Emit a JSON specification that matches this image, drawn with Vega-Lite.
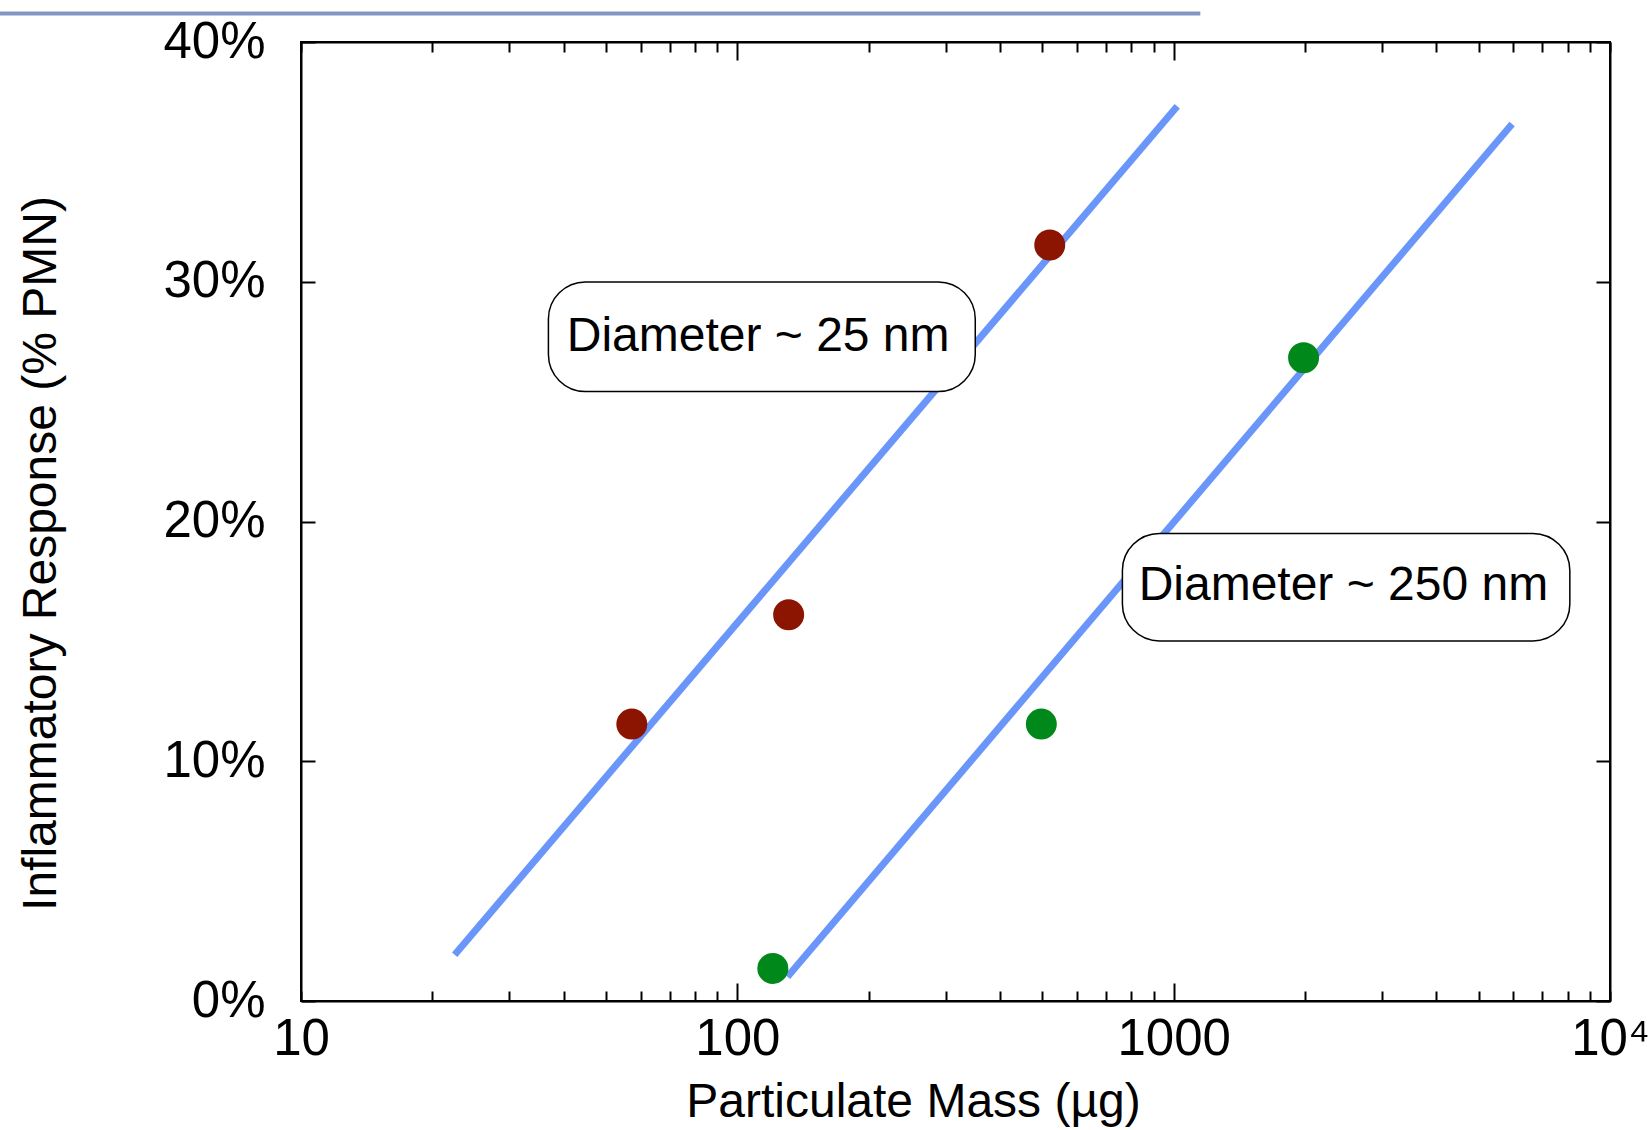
{
  "$schema": "https://vega.github.io/schema/vega-lite/v6.json",
  "width": 1309,
  "height": 959,
  "autosize": {"type": "none"},
  "padding": {"left": 301, "top": 42, "right": 41, "bottom": 129},
  "background": "white",
  "config": {
    "view": {"stroke": "black", "strokeWidth": 2},
    "font": "Liberation Sans",
    "axis": {"grid": false, "domainColor": "black", "domainWidth": 2, "tickColor": "black", "tickWidth": 2, "labelFont": "Liberation Sans", "titleFont": "Liberation Sans", "labelColor": "black", "titleColor": "black", "titleFontWeight": "normal", "labelFontSize": 51, "titleFontSize": 48}
  },
  "datasets": {
    "lines": [
      {"series": "25 nm", "mass": 22.5, "pmn": 1.93},
      {"series": "25 nm", "mass": 1019, "pmn": 37.32},
      {"series": "250 nm", "mass": 130.3, "pmn": 1.01},
      {"series": "250 nm", "mass": 5966, "pmn": 36.58}
    ],
    "points": [
      {"series": "25 nm", "mass": 57.3, "pmn": 11.55},
      {"series": "25 nm", "mass": 131.1, "pmn": 16.11},
      {"series": "25 nm", "mass": 520, "pmn": 31.53},
      {"series": "250 nm", "mass": 120.6, "pmn": 1.36},
      {"series": "250 nm", "mass": 497.4, "pmn": 11.55},
      {"series": "250 nm", "mass": 1985, "pmn": 26.83}
    ],
    "boxes": [
      {"label": "Diameter ~ 25 nm", "x1": 36.9, "x2": 351, "y1": 25.42, "y2": 29.99, "tx": 111.6, "ty": 27.7},
      {"label": "Diameter ~ 250 nm", "x1": 763, "x2": 8090, "y1": 15.02, "y2": 19.5, "tx": 2449, "ty": 17.3}
    ],
    "deco": [{"x1": 2.04, "x2": 1151, "y": 41.19}]
  },
  "layer": [
    {
      "data": {"name": "deco"},
      "mark": {"type": "rule", "color": "#8497c4", "strokeWidth": 4},
      "encoding": {
        "x": {"field": "x1", "type": "quantitative", "scale": {"type": "log", "domain": [10, 10000], "nice": false}, "axis": null},
        "x2": {"field": "x2"},
        "y": {"field": "y", "type": "quantitative", "scale": {"domain": [0, 40], "nice": false}, "axis": null}
      }
    },
    {
      "data": {"name": "lines"},
      "mark": {"type": "line", "color": "#6a96fa", "strokeWidth": 7},
      "encoding": {
        "x": {
          "field": "mass", "type": "quantitative",
          "scale": {"type": "log", "domain": [10, 10000], "nice": false},
          "axis": {
            "orient": "bottom",
            "title": "Particulate Mass (µg)",
            "values": [10, 20, 30, 40, 50, 60, 70, 80, 90, 100, 200, 300, 400, 500, 600, 700, 800, 900, 1000, 2000, 3000, 4000, 5000, 6000, 7000, 8000, 9000, 10000],
            "labelExpr": "datum.value == 10 ? '10' : datum.value == 100 ? '100' : datum.value == 1000 ? '1000' : datum.value == 10000 ? '10⁴' : ''",
            "labelOverlap": false,
            "labelFlush": false,
            "tickSize": -18,
            "tickDash": {"condition": {"test": "datum.value == 100 || datum.value == 1000", "value": [100, 1]}, "value": [10, 40]},
            "labelPadding": 31,
            "titlePadding": 14,
            "titleX": 612,
            "titleAlign": "center",
            "titleAnchor": "start"
          }
        },
        "y": {
          "field": "pmn", "type": "quantitative",
          "scale": {"domain": [0, 40], "nice": false},
          "axis": {
            "orient": "left",
            "title": "Inflammatory Response (% PMN)",
            "values": [0, 10, 20, 30, 40],
            "labelExpr": "datum.value + '%'",
            "tickSize": -14,
            "labelPadding": 50,
            "titlePadding": 97,
            "titleY": 511,
            "titleAlign": "center",
            "titleAnchor": "start"
          }
        },
        "detail": {"field": "series"}
      }
    },
    {
      "data": {"name": "points"},
      "mark": {"type": "circle", "opacity": 1, "size": 960},
      "encoding": {
        "x": {
          "field": "mass", "type": "quantitative",
          "scale": {"type": "log", "domain": [10, 10000], "nice": false},
          "axis": {
            "orient": "top",
            "title": null,
            "values": [10, 20, 30, 40, 50, 60, 70, 80, 90, 100, 200, 300, 400, 500, 600, 700, 800, 900, 1000, 2000, 3000, 4000, 5000, 6000, 7000, 8000, 9000, 10000],
            "labels": false,
            "tickSize": -18,
            "tickDash": {"condition": {"test": "datum.value == 100 || datum.value == 1000", "value": [100, 1]}, "value": [10, 40]}
          }
        },
        "y": {
          "field": "pmn", "type": "quantitative",
          "scale": {"domain": [0, 40], "nice": false},
          "axis": {"orient": "right", "title": null, "values": [0, 10, 20, 30, 40], "labels": false, "tickSize": -14}
        },
        "color": {"field": "series", "type": "nominal", "scale": {"domain": ["25 nm", "250 nm"], "range": ["#8b1500", "#00881a"]}, "legend": null}
      }
    },
    {
      "data": {"name": "boxes"},
      "mark": {"type": "rect", "fill": "white", "stroke": "black", "strokeWidth": 1.5, "cornerRadius": 37},
      "encoding": {
        "x": {"field": "x1", "type": "quantitative", "scale": {"type": "log", "domain": [10, 10000], "nice": false}, "axis": null},
        "x2": {"field": "x2"},
        "y": {"field": "y1", "type": "quantitative", "scale": {"domain": [0, 40], "nice": false}, "axis": null},
        "y2": {"field": "y2"}
      }
    },
    {
      "data": {"name": "boxes"},
      "mark": {"type": "text", "fontSize": 48, "font": "Liberation Sans", "color": "black", "align": "center", "baseline": "middle"},
      "encoding": {
        "x": {"field": "tx", "type": "quantitative", "scale": {"type": "log", "domain": [10, 10000], "nice": false}, "axis": null},
        "y": {"field": "ty", "type": "quantitative", "scale": {"domain": [0, 40], "nice": false}, "axis": null},
        "text": {"field": "label"}
      }
    }
  ],
  "resolve": {"axis": {"x": "independent", "y": "independent"}}
}
